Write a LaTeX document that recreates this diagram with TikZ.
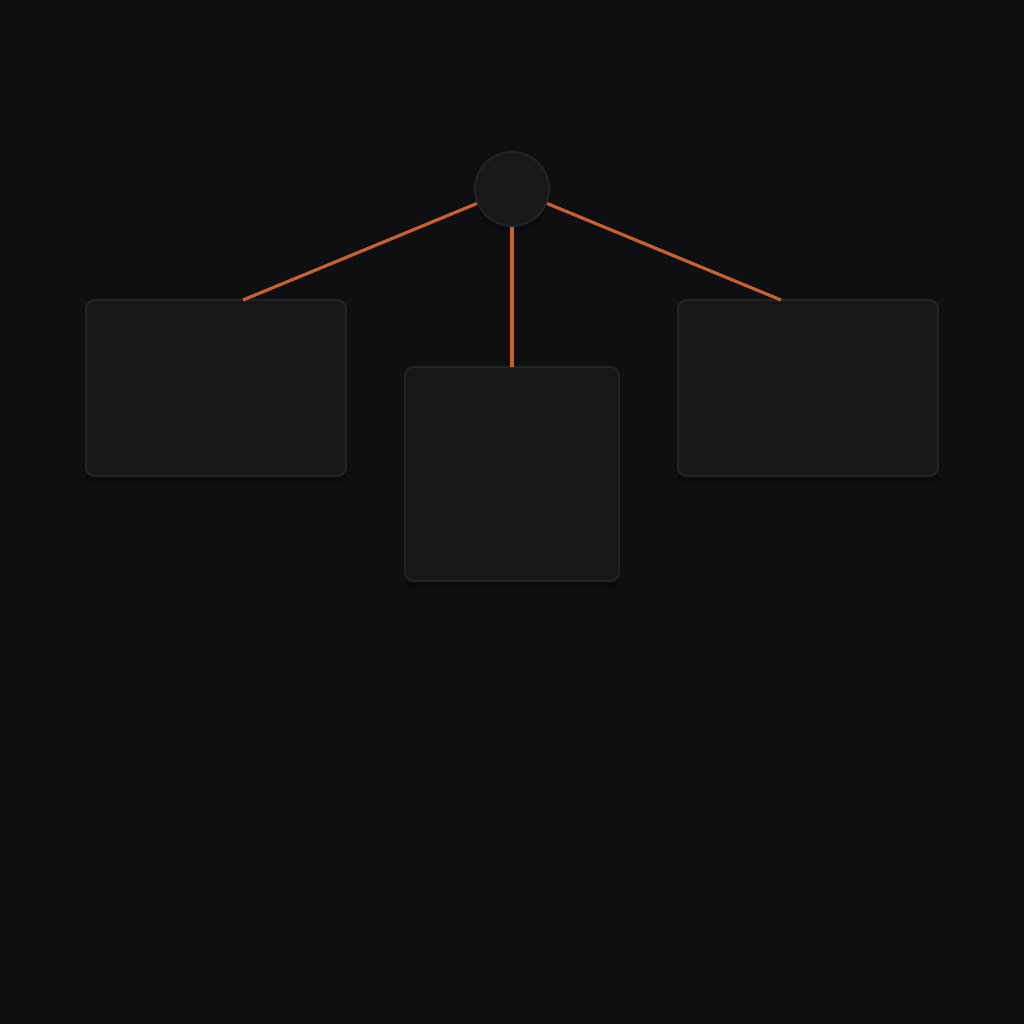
\documentclass[tikz,border=0pt]{standalone}
\usetikzlibrary{calc,shadows}
\definecolor{bgdark}{HTML}{0E0F10}
\definecolor{boxfill}{HTML}{161718}
\definecolor{boxedge}{HTML}{222325}
\definecolor{hubfill}{HTML}{18191B}
\definecolor{wire}{HTML}{C8602F}
\tikzset{
  panel/.style={draw=boxedge, fill=boxfill, line width=0.6pt, rounded corners=2.5pt,
    drop shadow={shadow xshift=0pt, shadow yshift=-2pt, opacity=0.22, fill=black}},
  hub/.style={circle, draw=boxedge, fill=hubfill, line width=0.6pt, inner sep=0pt,
    minimum size=0.74cm, drop shadow={shadow xshift=0pt, shadow yshift=-2pt, opacity=0.22, fill=black}},
  wire/.style={draw=wire, line width=0.9pt}
}
\begin{document}
\begin{tikzpicture}[x=0.01cm, y=-0.01cm]
                \fill[bgdark] (0,0) rectangle (1024,1024);
                \useasboundingbox (0,0) rectangle (1024,1024);
                % boxes
                \draw[panel] (86,300) rectangle (346,476);
                \draw[panel] (405,367) rectangle (619,581);
                \draw[panel] (678,300) rectangle (938,476);
                \coordinate (lbox) at (243,300);
                \coordinate (mbox) at (512,367);
                \coordinate (rbox) at (781,300);
                % hub
                \node[hub] (top) at (512,189) {};
                \draw[wire] (top) -- (lbox);
                \draw[wire] (top) -- (mbox);
                \draw[wire] (top) -- (rbox);
\end{tikzpicture}
\end{document}
